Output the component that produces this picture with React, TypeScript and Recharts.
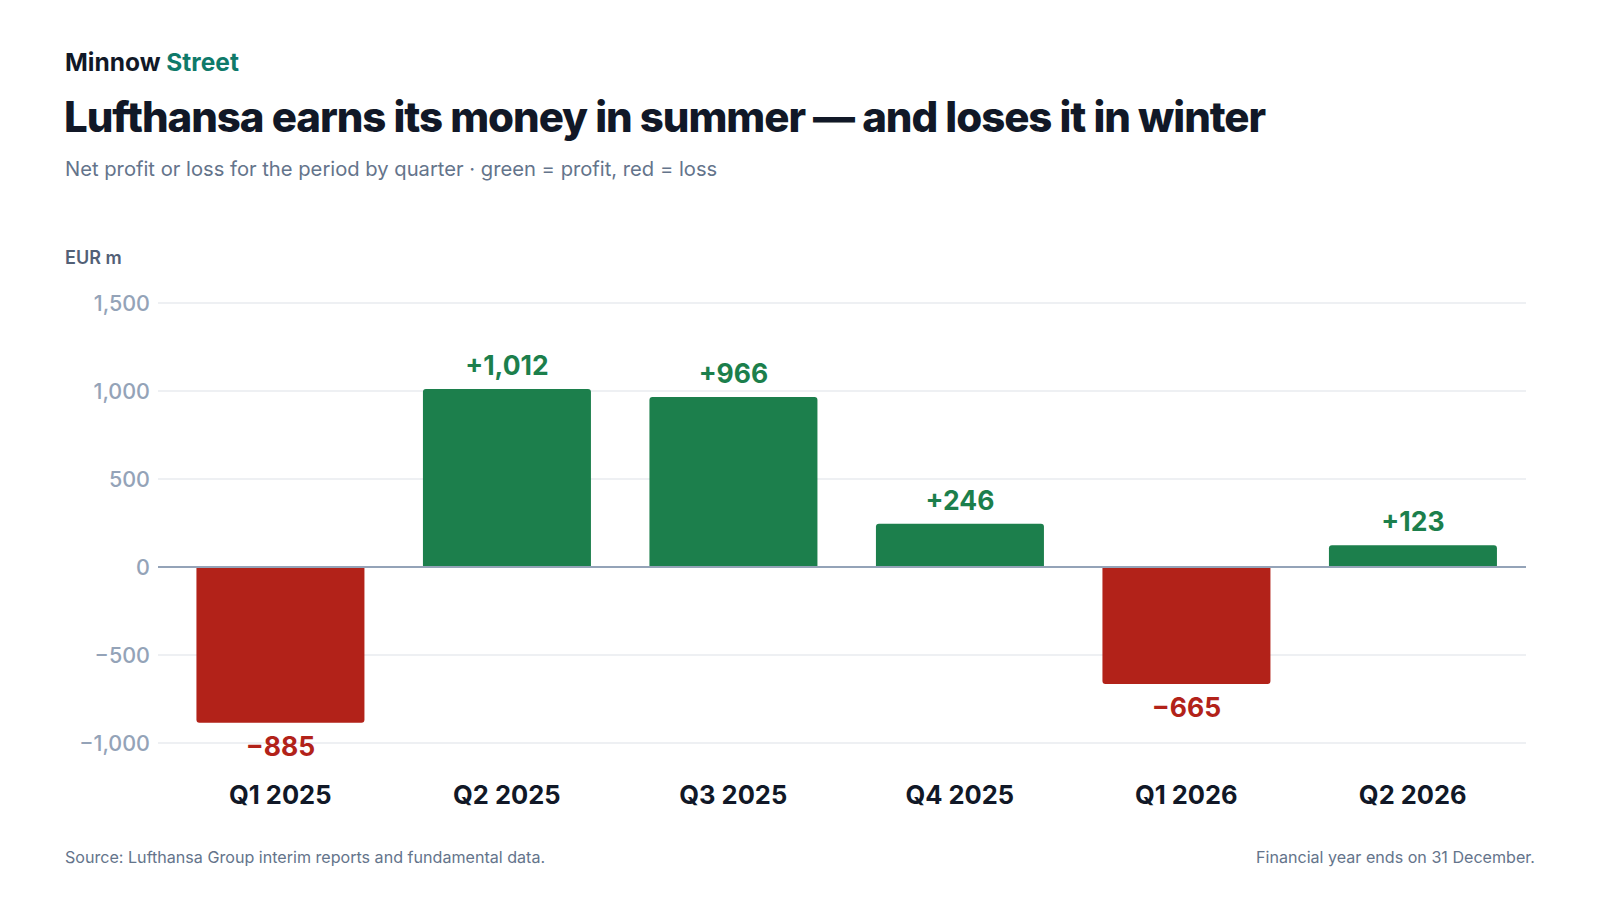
import React from "react";
import { BarChart, Bar, XAxis, YAxis, CartesianGrid, ReferenceLine, Cell, LabelList } from "recharts";

// Lufthansa net profit/loss per quarter, EUR m
const quarters = ["Q1 2025", "Q2 2025", "Q3 2025", "Q4 2025", "Q1 2026", "Q2 2026"];
const netProfit = [-885, 1012, 966, 246, -665, 123];
const yTicks = [-1000, -500, 0, 500, 1000, 1500];

const GREEN = "#1c7f4c";
const RED = "#b22219";
const INK = "#111827";
const MUTED = "#64748b";
const FONT = "Inter, 'Noto Sans', sans-serif";

const data = quarters.map((q, i) => ({ quarter: q, value: netProfit[i] }));

const fmtTick = (v: number) => (v < 0 ? "\u2212" : "") + Math.abs(v).toLocaleString("en-US");
const fmtValue = (v: number) => (v < 0 ? "\u2212" : "+") + Math.abs(v).toLocaleString("en-US");

function ValueLabel(props: any) {
  const { x, y, width, value } = props;
  const neg = value < 0;
  return (
    <text
      x={x + width / 2}
      y={neg ? y + 33 : y - 14}
      textAnchor="middle"
      fill={neg ? RED : GREEN}
      fontSize={26.5}
      fontWeight={700}
      fontFamily={FONT}
    >
      {fmtValue(value)}
    </text>
  );
}

function QuarterTick(props: any) {
  const { x, y, payload } = props;
  return (
    <text x={x} y={y + 61} textAnchor="middle" fill={INK} fontSize={25.5} fontWeight={700} fontFamily={FONT}>
      {payload.value}
    </text>
  );
}

export default function App() {
  return (
    <div style={{ position: "relative", width: 1600, height: 900, background: "#fff", fontFamily: FONT }}>
      <style>{`body{margin:0}`}</style>
      <div style={{ position: "absolute", left: 0, top: 0 }}>
        <BarChart width={1600} height={900} data={data} margin={{ top: 303, right: 74, bottom: 97, left: 68 }} barCategoryGap="13%">
          <CartesianGrid vertical={false} stroke="#e8ebef" strokeWidth={1.5} />
          <XAxis
            dataKey="quarter"
            height={60}
            axisLine={false}
            tickLine={false}
            tickSize={0}
            tickMargin={0}
            padding={{ left: 9, right: 0 }}
            tick={<QuarterTick />}
            interval={0}
          />
          <YAxis
            width={90}
            domain={[-1000, 1500]}
            ticks={yTicks}
            interval={0}
            axisLine={false}
            tickLine={false}
            tickFormatter={fmtTick}
            tick={{ fill: "#94a3b8", fontSize: 21.5, fontWeight: 500, fontFamily: FONT }}
          />
          <ReferenceLine y={0} stroke="#94a3b8" strokeWidth={2} />
          <Bar dataKey="value" radius={[3, 3, 0, 0]} isAnimationActive={false}>
            {data.map((d, i) => (
              <Cell key={i} fill={d.value < 0 ? RED : GREEN} />
            ))}
            <LabelList dataKey="value" content={<ValueLabel />} />
          </Bar>
        </BarChart>
      </div>
      <svg width={1600} height={900} style={{ position: "absolute", left: 0, top: 0, pointerEvents: "none" }} fontFamily={FONT}>
        <text x={65} y={71} fontSize={24.5} fontWeight={700} fill={INK}>
          Minnow <tspan fill="#0f7a6a">Street</tspan>
        </text>
        <text x={64} y={132} fontSize={42} fontWeight={800} fill={INK} letterSpacing={-1.05}>
          Lufthansa earns its money in summer — and loses it in winter
        </text>
        <text x={65} y={176} fontSize={20.2} fill={MUTED}>
          Net profit or loss for the period by quarter · green = profit, red = loss
        </text>
        <text x={65} y={264} fontSize={18} fontWeight={600} fill="#526076">
          EUR m
        </text>
        <text x={65} y={863} fontSize={16.1} fill={MUTED}>
          Source: Lufthansa Group interim reports and fundamental data.
        </text>
        <text x={1535} y={863} fontSize={16.1} fill={MUTED} textAnchor="end">
          Financial year ends on 31 December.
        </text>
      </svg>
    </div>
  );
}
